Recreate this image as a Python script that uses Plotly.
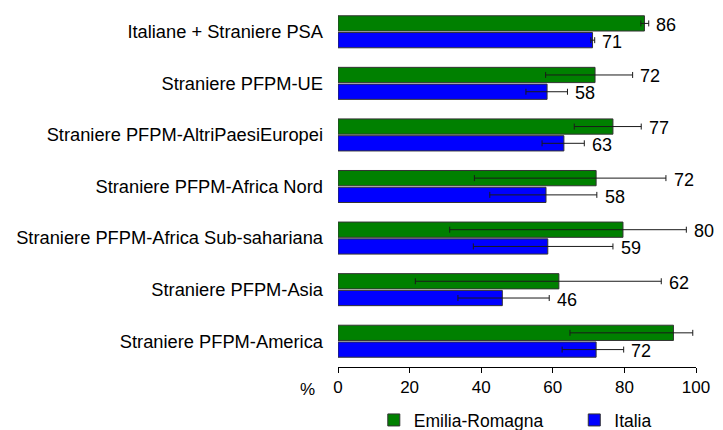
import plotly.graph_objects as go

categories = [
    "Italiane + Straniere PSA",
    "Straniere PFPM-UE",
    "Straniere PFPM-AltriPaesiEuropei",
    "Straniere PFPM-Africa Nord",
    "Straniere PFPM-Africa Sub-sahariana",
    "Straniere PFPM-Asia",
    "Straniere PFPM-America",
]
er_values = [85.6, 71.8, 76.8, 72.1, 79.6, 61.7, 93.7]
er_low = [84.6, 58.0, 66.0, 38.1, 31.2, 21.6, 64.8]
er_high = [86.8, 82.3, 84.7, 91.6, 97.3, 90.3, 99.1]
it_values = [71.1, 58.4, 63.1, 58.1, 58.6, 45.9, 72.1]
it_low = [70.6, 52.5, 57.0, 42.4, 37.8, 33.5, 62.6]
it_high = [71.7, 64.1, 68.8, 72.3, 76.8, 59.0, 79.8]
x_ticks = [0, 20, 40, 60, 80, 100]

FONT = "Liberation Sans, Arial, sans-serif"

fig = go.Figure()

def add_series(name, vals, lo, hi, color, legend):
    fig.add_trace(go.Bar(
        name=name, y=categories, x=vals, orientation="h", legend=legend,
        marker=dict(color=color, line=dict(color="#333333", width=1)),
        error_x=dict(type="data", symmetric=False,
                     array=[h - v for h, v in zip(hi, vals)],
                     arrayminus=[v - l for v, l in zip(vals, lo)],
                     color="#1a1a1a", thickness=1, width=3),
    ))

add_series("Emilia-Romagna", er_values, er_low, er_high, "#008000", "legend")
add_series("Italia", it_values, it_low, it_high, "#0000ff", "legend2")

annotations = []
for cat, v, h in zip(categories, er_values, er_high):
    annotations.append(dict(x=max(v, h) + 1.6, y=cat, xref="x", yref="y",
                            text=f"{round(v)}", showarrow=False, xanchor="left",
                            yanchor="middle", yshift=7,
                            font=dict(size=18, color="#000", family=FONT)))
for cat, v, h in zip(categories, it_values, it_high):
    annotations.append(dict(x=max(v, h) + 1.6, y=cat, xref="x", yref="y",
                            text=f"{round(v)}", showarrow=False, xanchor="left",
                            yanchor="middle", yshift=-10,
                            font=dict(size=18, color="#000", family=FONT)))
annotations.append(dict(x=-0.06, y=-0.061, xref="paper", yref="paper", text="%",
                        showarrow=False, xanchor="right", yanchor="middle",
                        font=dict(size=17, color="#000", family=FONT)))

legend_common = dict(orientation="h", xanchor="left", y=-0.147, yanchor="middle",
                     font=dict(size=17.5, family=FONT, color="#000"),
                     bgcolor="rgba(0,0,0,0)", borderwidth=0)

fig.update_layout(
    width=723, height=430,
    margin=dict(l=338, r=27, t=6, b=63, pad=0, autoexpand=False),
    paper_bgcolor="white", plot_bgcolor="white",
    barmode="group", bargap=0.35, bargroupgap=0.09,
    font=dict(family=FONT, size=17, color="#000"),
    showlegend=True,
    legend=dict(x=0.10, **legend_common),
    legend2=dict(x=0.66, **legend_common),
    annotations=annotations,
    xaxis=dict(range=[0, 100], tickvals=x_ticks, ticktext=[str(t) for t in x_ticks],
               showgrid=False, zeroline=False, showline=True, linecolor="#000", linewidth=1,
               ticks="outside", ticklen=5, tickcolor="#000", tickwidth=1,
               tickfont=dict(size=17, family=FONT, color="#000")),
    yaxis=dict(categoryorder="array", categoryarray=categories,
               range=[6.5, -0.5], showgrid=False, zeroline=False, showline=False,
               ticks="", ticklabelstandoff=14,
               tickfont=dict(size=18.3, family=FONT, color="#000")),
)

fig.write_html("out.html", config={"displayModeBar": False},
               post_script="document.body.style.margin='0';")
